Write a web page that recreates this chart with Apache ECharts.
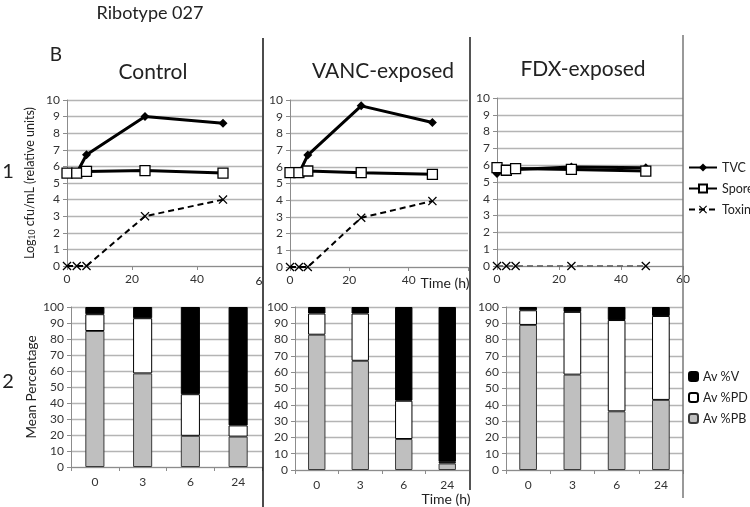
<!DOCTYPE html>
<html><head><meta charset="utf-8">
<script src="https://cdn.jsdelivr.net/npm/echarts@6/dist/echarts.min.js"></script>
<style>html,body{margin:0;padding:0;background:#fff}#c{width:750px;height:507px}</style>
</head><body><div id="c"></div>
<script>
// ---- data ----
const times = [0, 3, 6, 24, 48];
const ctrlTVC = [5.6, 5.6, 6.7, 9.0, 8.6];
const ctrlSpore = [5.6, 5.6, 5.7, 5.75, 5.6];
const ctrlToxin = [0, 0, 0, 3.0, 4.0];
const vancTVC = [5.6, 5.6, 6.7, 9.65, 8.65];
const vancSpore = [5.65, 5.65, 5.75, 5.65, 5.55];
const vancToxin = [0, 0, 0, 2.95, 3.95];
const fdxTVC = [5.5, 5.7, 5.75, 5.9, 5.85];
const fdxSpore = [5.85, 5.7, 5.8, 5.75, 5.65];
const fdxToxin = [0, 0, 0, 0, 0];
const barCats = ['0', '3', '6', '24'];
const ctrlPB = [85, 58.5, 19.5, 19];
const ctrlPD = [10.5, 34.5, 26, 7];
const ctrlV = [4.5, 7, 54.5, 74];
const vancPB = [83, 67, 19, 4];
const vancPD = [13, 29, 23.5, 1];
const vancV = [4, 4, 57.5, 95];
const fdxPB = [89, 58.5, 36, 43];
const fdxPD = [9, 38.5, 56, 51.5];
const fdxV = [2, 3, 8, 5.5];
const lineYTicks = [0, 10, 1];
const lineXTicks = [0, 60, 20];
const barYTicks = [0, 100, 10];

const FONT = 'Lato';
const grid = '#b4b4b4';
const axisCol = '#8c8c8c';
const xSym = 'path://M1,0 L5,4 L9,0 L10,1 L6,5 L10,9 L9,10 L5,6 L1,10 L0,9 L4,5 L0,1 Z';
const pair = (arr) => arr.map((v, i) => [times[i], v]);

const grids = [
  {left: 67, top: 100, width: 195, height: 166},
  {left: 290, top: 100, width: 178, height: 167},
  {left: 497, top: 98, width: 186, height: 168},
  {left: 71, top: 307, width: 191, height: 160},
  {left: 295, top: 307, width: 174, height: 163},
  {left: 506, top: 307, width: 177, height: 163}
];
const lbl = {color: '#333', fontSize: 12, fontFamily: FONT};
const xAxes = [], yAxes = [];
for (let i = 0; i < 3; i++) {
  xAxes.push({gridIndex: i, type: 'value', min: lineXTicks[0], max: lineXTicks[1], interval: lineXTicks[2],
    axisLine: {show: true, lineStyle: {color: axisCol}}, axisTick: {show: true, length: 4, lineStyle: {color: axisCol}},
    splitLine: {show: false},
    axisLabel: Object.assign({}, lbl, {margin: 7, formatter: v => (v === 60 && i < 2) ? '' : String(v)})});
  yAxes.push({gridIndex: i, type: 'value', min: lineYTicks[0], max: lineYTicks[1], interval: lineYTicks[2],
    axisLine: {show: true, lineStyle: {color: axisCol}}, axisTick: {show: true, length: 4, lineStyle: {color: axisCol}},
    splitLine: {show: true, lineStyle: {color: grid, width: 1.3}},
    axisLabel: Object.assign({}, lbl, {margin: 7}),
    name: i === 0 ? '{a|Log}{s|10}{a| cfu/mL (relative units)}' : '',
    nameLocation: 'middle', nameRotate: 90, nameGap: 30,
    nameTextStyle: {rich: {a: {fontSize: 12.5, fontFamily: FONT, color: '#222', lineHeight: 15},
      s: {fontSize: 8.5, fontFamily: FONT, color: '#222', lineHeight: 15, verticalAlign: 'bottom', padding: [6, 0, 0, 0]}}}});
}
for (let i = 3; i < 6; i++) {
  xAxes.push({gridIndex: i, type: 'category', data: barCats,
    axisLine: {show: true, lineStyle: {color: axisCol}}, axisTick: {show: true, length: 4, lineStyle: {color: axisCol}},
    axisLabel: Object.assign({}, lbl, {margin: 9})});
  yAxes.push({gridIndex: i, type: 'value', min: barYTicks[0], max: barYTicks[1], interval: barYTicks[2],
    axisLine: {show: true, lineStyle: {color: axisCol}}, axisTick: {show: true, length: 4, lineStyle: {color: axisCol}},
    splitLine: {show: true, lineStyle: {color: grid, width: 1.3}},
    axisLabel: Object.assign({}, lbl, {margin: 7}),
    name: i === 3 ? 'Mean Percentage' : '', nameLocation: 'middle', nameRotate: 90, nameGap: 32,
    nameTextStyle: {fontSize: 13.5, fontFamily: FONT, color: '#222'}});
}

const series = [];
const lineSets = [[ctrlTVC, ctrlSpore, ctrlToxin], [vancTVC, vancSpore, vancToxin], [fdxTVC, fdxSpore, fdxToxin]];
lineSets.forEach((s, i) => {
  series.push({name: 'TVC', type: 'line', xAxisIndex: i, yAxisIndex: i, data: pair(s[0]), z: 4,
    symbol: 'diamond', symbolSize: 9, lineStyle: {color: '#000', width: 3}, itemStyle: {color: '#000'}});
  series.push({name: 'Spore', type: 'line', xAxisIndex: i, yAxisIndex: i, data: pair(s[1]), z: 5,
    symbol: 'rect', symbolSize: 10, lineStyle: {color: '#000', width: 3},
    itemStyle: {color: '#fff', borderColor: '#000', borderWidth: 1.3}});
  series.push({name: 'Toxin', type: 'line', xAxisIndex: i, yAxisIndex: i, data: pair(s[2]), z: 3,
    symbol: xSym, symbolSize: 9, lineStyle: {color: '#000', width: i === 2 ? 1 : 2, type: [6, 4]}, itemStyle: {color: '#000'}});
});
const barSets = [[ctrlPB, ctrlPD, ctrlV], [vancPB, vancPD, vancV], [fdxPB, fdxPD, fdxV]];
barSets.forEach((s, k) => {
  const i = k + 3;
  const st = 'g' + k;
  series.push({name: 'Av %PB', type: 'bar', stack: st, xAxisIndex: i, yAxisIndex: i, data: s[0], barWidth: '40%',
    itemStyle: {color: '#bfbfbf', borderColor: '#3a3a3a', borderWidth: 1}});
  series.push({name: 'Av %PD', type: 'bar', stack: st, xAxisIndex: i, yAxisIndex: i, data: s[1], barWidth: '40%',
    itemStyle: {color: '#fff', borderColor: '#000', borderWidth: 1}});
  series.push({name: 'Av %V', type: 'bar', stack: st, xAxisIndex: i, yAxisIndex: i, data: s[2], barWidth: '40%',
    itemStyle: {color: '#000', borderColor: '#000', borderWidth: 1}});
});

const txt = (x, y, t, size, align) => ({type: 'text', x: x, y: y, z: 100,
  style: {text: t, fontSize: size, fontFamily: FONT, fill: '#222', align: align || 'center', verticalAlign: 'middle'}});
const vline = (x, y1, y2, col, w) => ({type: 'line', z: 90, shape: {x1: x, y1: y1, x2: x, y2: y2}, style: {stroke: col, lineWidth: w}});

const option = {
  animation: false,
  backgroundColor: '#fff',
  grid: grids,
  xAxis: xAxes,
  yAxis: yAxes,
  series: series,
  legend: [
    {data: ['TVC', 'Spore', 'Toxin'], orient: 'vertical', left: 688, top: 161, padding: 0, itemWidth: 28, itemHeight: 10, itemGap: 8,
      textStyle: {fontSize: 12.5, fontFamily: FONT, color: '#222'}},
    {data: ['Av %V', 'Av %PD', 'Av %PB'], orient: 'vertical', left: 688, top: 370, padding: 0, itemWidth: 9, itemHeight: 9, itemGap: 8,
      textStyle: {fontSize: 12.5, fontFamily: FONT, color: '#222'}}
  ],
  graphic: [
    txt(150, 13, 'Ribotype 027', 18),
    txt(56, 55, 'B', 19),
    txt(153, 72, 'Control', 21),
    txt(383, 71, 'VANC-exposed', 21),
    txt(583, 69, 'FDX-exposed', 21),
    txt(8, 172, '1', 20),
    txt(8, 382, '2', 20),
    txt(259, 281, '6', 12),
    txt(445, 283, 'Time (h)', 14),
    txt(446, 499, 'Time (h)', 14),
    vline(263, 38, 507, '#111', 1.5),
    vline(470, 37, 490, '#555', 2),
    vline(683, 35, 498, '#777', 1.5)
  ]
};
const chart = echarts.init(document.getElementById('c'), null, {renderer: 'canvas'});
chart.setOption(option);
</script>
</body></html>
